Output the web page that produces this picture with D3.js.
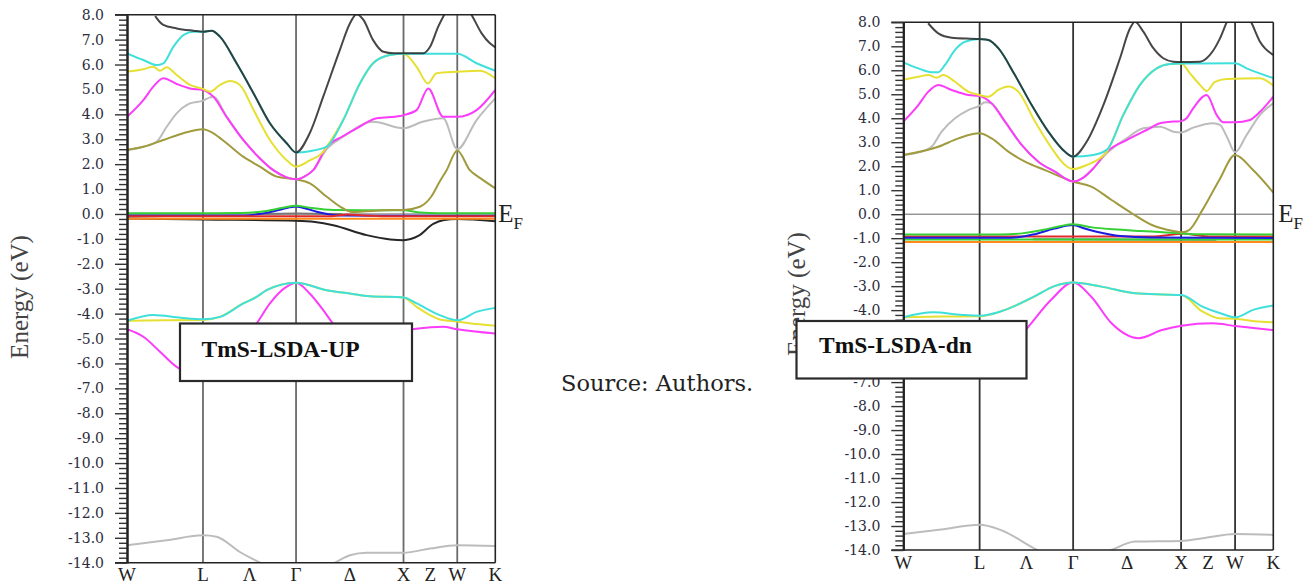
<!DOCTYPE html>
<html><head><meta charset="utf-8">
<script src="https://cdn.jsdelivr.net/npm/d3@7"></script>
<style>body{margin:0;background:#fff}svg{display:block}</style>
</head><body><svg id="c" width="1311" height="584"></svg>
<script>
// ---------- DATA ----------
const kPoints = [0, 0.707, 1.573, 2.573, 3.073, 3.427];          // W L Γ X W K
const kLabels = ["W", "L", "Λ", "Γ", "Δ", "X", "Z", "W", "K"];
const kLabelPos = [0, 0.707, 1.14, 1.573, 2.073, 2.573, 2.823, 3.073, 3.427];
const eMajor = d3.range(0, 23).map(i => -14 + i);
const eMinor = d3.range(0, 111).filter(i => i % 5 !== 0).map(i => -14 + i * 0.2);

// spin-up panel
const upBlack = [[0.262,7.95],[0.276,7.86],[0.338,7.59],[0.462,7.45],[0.617,7.36],[0.707,7.32],[0.788,7.36],[0.865,7.12],[1.02,6.05],[1.178,4.84],[1.33,3.64],[1.486,2.84],[1.573,2.47],[1.70,3.24],[1.826,4.71],[1.98,6.58],[2.074,7.65],[2.137,8.02],[2.2,7.79],[2.29,6.98],[2.386,6.51],[2.48,6.45],[2.573,6.45],[2.756,6.45],[2.82,6.71],[2.896,7.52],[2.958,8.05],[3.073,8.9],[3.206,8.0],[3.3,7.25],[3.377,6.85],[3.427,6.69]];
const upCyan = [[0,6.45],[0.152,6.18],[0.276,5.98],[0.338,6.05],[0.431,6.71],[0.524,7.18],[0.617,7.32],[0.707,7.32],[0.788,7.36],[0.865,7.12],[1.02,6.05],[1.178,4.84],[1.33,3.64],[1.486,2.84],[1.573,2.47],[1.70,2.52],[1.858,2.70],[2.012,3.77],[2.167,5.24],[2.29,6.05],[2.447,6.38],[2.573,6.43],[2.8,6.43],[3.073,6.43],[3.253,6.05],[3.427,5.75]];
const upYellow = [[0,5.71],[0.152,5.81],[0.245,5.91],[0.307,5.75],[0.369,5.89],[0.462,5.58],[0.586,5.18],[0.707,5.02],[0.772,4.91],[0.865,5.18],[0.958,5.34],[1.05,5.18],[1.178,4.17],[1.33,2.97],[1.486,2.16],[1.573,1.9],[1.70,2.15],[1.826,2.5],[1.858,2.70],[2.012,3.77],[2.167,5.24],[2.29,6.05],[2.447,6.38],[2.573,6.43],[2.695,5.91],[2.80,5.24],[2.88,5.65],[3.073,5.71],[3.284,5.75],[3.427,5.45]];
const upMagenta = [[0,3.9],[0.152,4.57],[0.245,5.11],[0.338,5.45],[0.462,5.22],[0.586,5.04],[0.707,4.98],[0.803,4.71],[0.927,3.9],[1.082,2.97],[1.237,2.23],[1.361,1.76],[1.486,1.47],[1.573,1.39],[1.65,1.5],[1.733,1.76],[1.858,2.70],[2.0,3.1],[2.137,3.44],[2.323,3.84],[2.54,3.93],[2.573,3.97],[2.695,4.17],[2.803,5.04],[2.942,3.90],[3.073,3.9],[3.253,4.17],[3.427,4.98]];
const upGray = [[0,2.57],[0.152,2.7],[0.276,2.9],[0.369,3.5],[0.462,4.04],[0.586,4.44],[0.707,4.55],[0.772,4.68],[0.803,4.71],[0.927,3.9],[1.082,2.97],[1.237,2.23],[1.361,1.76],[1.486,1.47],[1.573,1.39],[1.65,1.5],[1.733,1.76],[1.858,2.6],[2.012,3.1],[2.29,3.70],[2.573,3.44],[2.75,3.7],[2.942,3.84],[3.073,2.6],[3.253,3.77],[3.427,4.64]];
const upOlive = [[0,2.57],[0.152,2.7],[0.338,2.97],[0.524,3.24],[0.707,3.4],[0.803,3.24],[0.927,2.84],[1.082,2.3],[1.237,1.9],[1.393,1.5],[1.573,1.39],[1.702,1.23],[1.859,0.69],[2.012,0.22],[2.10,0.08],[2.2,0.1],[2.40,0.15],[2.573,0.16],[2.725,0.29],[2.83,0.69],[2.91,1.3],[2.974,1.76],[3.073,2.55],[3.19,1.76],[3.284,1.45],[3.427,1.03]];
const upGreen = [[0,0.03],[0.707,0.03],[1.05,0.04],[1.3,0.12],[1.45,0.25],[1.573,0.33],[1.70,0.25],[1.92,0.16],[2.2,0.15],[2.573,0.15],[2.73,0.06],[2.9,0.03],[3.427,0.03]];
const upBlue = [[0,-0.06],[1.1,-0.06],[1.3,0.05],[1.45,0.2],[1.573,0.3],[1.68,0.2],[1.765,0.09],[1.98,-0.06],[2.3,-0.07],[3.427,-0.07]];
const upRed = [[0,-0.09],[1.9,-0.09],[2.05,-0.02],[2.2,-0.06],[2.4,-0.09],[3.427,-0.09]];
const upOrange = [[0,-0.19],[1.573,-0.19],[3.427,-0.19]];
const upDark = [[1.2,0.0],[1.573,0.02],[2.0,0.0]];
const upBlackLow = [[0,-0.18],[0.707,-0.22],[1.573,-0.27],[1.75,-0.32],[1.919,-0.45],[2.23,-0.85],[2.45,-1.02],[2.573,-1.05],[2.71,-0.88],[2.85,-0.4],[2.94,-0.25],[3.073,-0.2],[3.427,-0.29]];
const upCyanLow = [[0,-4.29],[0.245,-4.06],[0.5,-4.17],[0.707,-4.23],[0.865,-4.13],[1.082,-3.59],[1.206,-3.33],[1.299,-3.06],[1.573,-2.76],[1.858,-3.06],[2.074,-3.19],[2.26,-3.3],[2.573,-3.35],[2.695,-3.59],[2.91,-4.06],[3.073,-4.27],[3.253,-3.93],[3.427,-3.77]];
const upYellowLow = [[0,-4.29],[0.35,-4.27],[0.707,-4.26],[0.865,-4.13],[1.082,-3.59],[1.206,-3.33],[1.299,-3.06],[1.573,-2.76],[1.858,-3.06],[2.074,-3.19],[2.26,-3.3],[2.573,-3.35],[2.695,-3.73],[2.82,-4.06],[2.91,-4.24],[3.073,-4.32],[3.253,-4.42],[3.427,-4.49]];
const upMagentaLow = [[0,-4.63],[0.152,-4.93],[0.307,-5.53],[0.462,-6.14],[0.707,-6.55],[0.95,-5.7],[1.207,-4.39],[1.33,-3.59],[1.486,-2.92],[1.573,-2.76],[1.70,-3.19],[1.826,-3.86],[1.904,-4.33],[2.18,-5.12],[2.45,-4.75],[2.65,-4.63],[2.94,-4.53],[3.073,-4.63],[3.427,-4.8]];
const upGrayLow = [[0,-13.3],[0.369,-13.1],[0.707,-12.9],[0.834,-12.96],[1.05,-13.57],[1.253,-14.03],[1.573,-14.6],[1.92,-14.03],[2.074,-13.7],[2.23,-13.6],[2.573,-13.6],[2.82,-13.43],[3.073,-13.3],[3.427,-13.33]];

// spin-down panel
const dnBlack = [[0.23,7.96],[0.324,7.54],[0.448,7.36],[0.704,7.3],[0.788,7.26],[0.88,6.92],[1.034,5.8],[1.189,4.55],[1.343,3.44],[1.498,2.6],[1.573,2.4],[1.698,3.02],[1.853,4.55],[2.007,6.5],[2.1,7.75],[2.146,8.02],[2.223,7.61],[2.316,6.92],[2.408,6.5],[2.501,6.36],[2.573,6.34],[2.748,6.36],[2.84,6.64],[2.933,7.33],[2.995,8.0],[3.1,8.9],[3.227,7.96],[3.304,7.19],[3.427,6.64]];
const dnCyan = [[0,6.33],[0.139,6.08],[0.262,5.92],[0.324,5.92],[0.386,6.22],[0.479,6.85],[0.571,7.19],[0.704,7.3],[0.788,7.26],[0.88,6.92],[1.034,5.8],[1.189,4.55],[1.343,3.44],[1.498,2.6],[1.573,2.4],[1.76,2.47],[1.884,2.68],[2.038,4.14],[2.192,5.39],[2.347,6.08],[2.47,6.26],[2.573,6.28],[3.073,6.29],[3.18,6.08],[3.427,5.67]];
const dnYellow = [[0,5.6],[0.139,5.73],[0.232,5.8],[0.309,5.69],[0.371,5.8],[0.479,5.52],[0.602,5.11],[0.704,4.97],[0.788,4.9],[0.88,5.18],[0.973,5.32],[1.065,5.11],[1.22,3.86],[1.374,2.75],[1.498,2.05],[1.573,1.88],[1.698,2.05],[1.822,2.33],[1.884,2.6],[2.038,4.14],[2.192,5.39],[2.347,6.08],[2.47,6.26],[2.573,6.28],[2.655,5.87],[2.748,5.39],[2.81,5.14],[2.887,5.52],[2.995,5.64],[3.304,5.67],[3.427,5.36]];
const dnMagenta = [[0,3.86],[0.139,4.55],[0.232,5.11],[0.324,5.39],[0.448,5.18],[0.602,4.97],[0.704,4.93],[0.818,4.62],[0.942,3.86],[1.096,2.89],[1.251,2.19],[1.405,1.77],[1.573,1.36],[1.66,1.5],[1.76,1.91],[1.884,2.6],[2.069,3.09],[2.254,3.51],[2.378,3.79],[2.501,3.86],[2.573,3.88],[2.624,4.0],[2.686,4.42],[2.81,4.97],[2.902,4.14],[2.964,3.83],[3.073,3.83],[3.211,3.93],[3.304,4.27],[3.427,4.9]];
const dnGray = [[0,2.47],[0.17,2.61],[0.262,2.81],[0.355,3.44],[0.479,4.0],[0.602,4.34],[0.704,4.52],[0.757,4.67],[0.818,4.62],[0.942,3.86],[1.096,2.89],[1.251,2.19],[1.405,1.77],[1.573,1.36],[1.66,1.5],[1.76,1.91],[1.884,2.54],[2.069,3.16],[2.223,3.58],[2.378,3.65],[2.501,3.44],[2.573,3.41],[2.686,3.61],[2.871,3.79],[2.933,3.72],[3.0,3.2],[3.073,2.58],[3.18,3.3],[3.304,4.14],[3.427,4.62]];
const dnOlive = [[0,2.47],[0.324,2.81],[0.51,3.16],[0.704,3.37],[0.818,3.16],[0.973,2.61],[1.127,2.19],[1.313,1.84],[1.573,1.36],[1.741,1.15],[1.929,0.59],[2.116,0.04],[2.303,-0.45],[2.5,-0.7],[2.578,-0.75],[2.647,-0.66],[2.771,0.18],[2.927,1.43],[3.073,2.47],[3.24,1.84],[3.427,0.9]];
const dnGreen = [[0,-0.85],[0.9,-0.85],[1.1,-0.8],[1.3,-0.65],[1.45,-0.5],[1.573,-0.42],[1.75,-0.55],[1.945,-0.63],[2.2,-0.7],[2.408,-0.75],[2.717,-0.84],[3.427,-0.85]];
const dnBlue = [[0,-0.98],[1.0,-0.98],[1.2,-0.85],[1.4,-0.6],[1.573,-0.45],[1.68,-0.6],[1.79,-0.73],[2.01,-0.91],[2.3,-0.97],[3.427,-0.99]];
const dnRed = [[0,-0.93],[2.3,-0.93],[2.5,-0.85],[2.6,-0.8],[2.72,-0.88],[2.85,-0.93],[3.427,-0.93]];
const dnGreen2 = [[0,-1.05],[1.573,-1.05],[3.427,-1.05]];
const dnOrange = [[0,-1.16],[1.573,-1.16],[3.427,-1.16]];
const dnDark = [[1.2,-1.04],[2.0,-1.05],[2.9,-1.07]];
const dnCyanLow = [[0,-4.3],[0.275,-4.09],[0.55,-4.2],[0.712,-4.23],[0.899,-4.06],[1.211,-3.44],[1.40,-3.0],[1.573,-2.85],[1.835,-3.02],[2.147,-3.3],[2.4,-3.35],[2.573,-3.37],[2.771,-3.85],[2.95,-4.15],[3.073,-4.3],[3.24,-3.99],[3.427,-3.81]];
const dnYellowLow = [[0,-4.3],[0.35,-4.27],[0.712,-4.26],[0.899,-4.06],[1.211,-3.44],[1.40,-3.0],[1.573,-2.85],[1.835,-3.02],[2.147,-3.3],[2.4,-3.35],[2.573,-3.37],[2.771,-4.06],[2.927,-4.34],[3.073,-4.36],[3.25,-4.46],[3.427,-4.51]];
const dnMagentaLow = [[0,-4.6],[0.15,-4.93],[0.31,-5.5],[0.46,-6.1],[0.707,-6.5],[0.95,-5.7],[1.133,-4.83],[1.367,-3.58],[1.573,-2.85],[1.741,-3.44],[1.929,-4.55],[2.178,-5.17],[2.397,-4.83],[2.578,-4.65],[2.865,-4.55],[3.074,-4.66],[3.427,-4.83]];
const dnGrayLow = [[0,-13.33],[0.35,-13.15],[0.707,-12.95],[0.899,-13.16],[1.242,-14.0],[1.573,-14.6],[1.929,-14.0],[2.147,-13.65],[2.573,-13.62],[2.771,-13.51],[3.074,-13.33],[3.427,-13.37]];

// tick labels hidden behind the legend box of the spin-down panel
const dnHiddenTicks = [-5, -6];

// ---------- STYLE ----------
const C = {black:"#262626", cyan:"#3fe0dc", yellow:"#e6e032", magenta:"#fb3cfb", gray:"#bcbcbc",
  olive:"#a09b3e", green:"#34d034", blue:"#1c1ce0", red:"#e02a2a", orange:"#ff8a1c", dark:"#777"};

const upBands = [
  [upGrayLow,C.gray],[upMagentaLow,C.magenta],[upYellowLow,C.yellow],[upCyanLow,C.cyan],
  [upDark,C.dark],[upBlackLow,C.black],[upOrange,C.orange],[upBlue,C.blue],[upRed,C.red],[upGreen,C.green],
  [upGray,C.gray],[upOlive,C.olive],[upMagenta,C.magenta],[upYellow,C.yellow],[upCyan,C.cyan],[upBlack,C.black,0.85]
];
const dnBands = [
  [dnGrayLow,C.gray],[dnMagentaLow,C.magenta],[dnYellowLow,C.yellow],[dnCyanLow,C.cyan],
  [dnDark,C.dark],[dnOrange,C.orange],[dnGreen2,C.green],[dnRed,C.red],[dnBlue,C.blue],[dnGreen,C.green],
  [dnGray,C.gray],[dnOlive,C.olive],[dnMagenta,C.magenta],[dnYellow,C.yellow],[dnCyan,C.cyan],[dnBlack,C.black,0.85]
];

const svg = d3.select("#c");
const serif = "'Liberation Serif','Times New Roman',serif";

function drawPanel(p, bands) {
  const x = d3.scaleLinear().domain([kPoints[0], kPoints[kPoints.length-1]]).range([p.x0, p.x1]);
  const y = d3.scaleLinear().domain([-14, 8]).range([p.yB, p.yT]);
  const g = svg.append("g");
  svg.append("clipPath").attr("id", "clip-" + p.id).append("rect")
    .attr("x", p.x0).attr("y", p.yT).attr("width", p.x1 - p.x0).attr("height", p.yB - p.yT);
  const plot = g.append("g").attr("clip-path", `url(#clip-${p.id})`);

  plot.append("line").attr("x1", x(0)).attr("x2", x(3.427)).attr("y1", y(0)).attr("y2", y(0))
    .attr("stroke", "#666").attr("stroke-width", 1);
  kPoints.slice(1, -1).forEach(k => plot.append("line")
    .attr("x1", x(k)).attr("x2", x(k)).attr("y1", p.yT).attr("y2", p.yB)
    .attr("stroke", p.vColor).attr("stroke-width", 1.8));

  const line = d3.line().x(d => x(d[0])).y(d => y(d[1])).curve(d3.curveMonotoneX);
  bands.forEach(b => plot.append("path").attr("d", line(b[0])).attr("fill", "none")
    .attr("stroke", b[1]).attr("stroke-width", 2).attr("stroke-opacity", b[2] || 1)
    .attr("stroke-linejoin", "round"));

  // frame
  g.append("line").attr("x1", p.x0 - 12).attr("x2", p.x1).attr("y1", p.yT).attr("y2", p.yT).attr("stroke", "#222").attr("stroke-width", 1.6);
  g.append("line").attr("x1", p.x0 - 12).attr("x2", p.x1).attr("y1", p.yB).attr("y2", p.yB).attr("stroke", "#222").attr("stroke-width", 1.6);
  g.append("line").attr("x1", p.x1).attr("x2", p.x1).attr("y1", p.yT).attr("y2", p.yB).attr("stroke", "#222").attr("stroke-width", 1.6);

  const minorAx = g.append("g").attr("transform", `translate(${p.x0},0)`)
    .call(d3.axisLeft(y).tickValues(eMinor).tickSize(8).tickSizeOuter(0).tickFormat(""));
  const majorAx = g.append("g").attr("transform", `translate(${p.x0},0)`)
    .call(d3.axisLeft(y).tickValues(eMajor).tickSize(12).tickSizeOuter(0).tickPadding(11).tickFormat(d => d.toFixed(1)));
  [minorAx, majorAx].forEach(a => {
    a.select(".domain").attr("stroke", "#222").attr("stroke-width", 2);
    a.selectAll(".tick line").attr("stroke", "#333").attr("stroke-width", 1.4);
  });
  majorAx.selectAll(".tick text").attr("font-family", "'DejaVu Serif',serif").attr("font-size", 14)
    .attr("fill", "#2c2c3c");
  majorAx.selectAll(".tick text").filter(d => p.hidden.includes(d)).remove();

  kLabels.forEach((t, i) => g.append("text").attr("x", x(kLabelPos[i])).attr("y", p.labelY)
    .attr("text-anchor", "middle").attr("font-family", serif).attr("font-size", 19).attr("fill", "#222").text(t));

  // E_F
  const ef = g.append("text").attr("x", p.x1 + p.efDx).attr("y", y(0) + 8).attr("font-family", serif).attr("fill", "#222");
  ef.append("tspan").attr("font-size", 25).text("E");
  ef.append("tspan").attr("font-size", 17).attr("dy", 7).text("F");

  // y label
  svg.append("text").attr("transform", `translate(${p.ylx},${p.yly}) rotate(-90)`)
    .attr("text-anchor", "middle").attr("font-family", serif).attr("font-size", 25).attr("fill", "#444")
    .text("Energy (eV)");

  // legend box
  svg.append("rect").attr("x", p.bx).attr("y", p.by).attr("width", p.bw).attr("height", p.bh)
    .attr("fill", "#fff").attr("stroke", "#2a2a2a").attr("stroke-width", 2.2);
  svg.append("text").attr("x", p.tx).attr("y", p.ty).attr("font-family", serif).attr("font-weight", "bold")
    .attr("font-size", 23.5).attr("fill", "#111").text(p.title);
}

drawPanel({id:"up", x0:127, x1:495.3, yT:14.7, yB:562.7, vColor:"#6a6a6a", labelY:581, efDx:3, hidden:[],
  ylx:28, yly:297, bx:180, by:323.5, bw:232, bh:57.5, tx:201.5, ty:356.5, title:"TmS-LSDA-UP"}, upBands);
drawPanel({id:"dn", x0:903.3, x1:1273.3, yT:22.3, yB:550, vColor:"#333", labelY:569, efDx:5, hidden:dnHiddenTicks,
  ylx:805, yly:294, bx:796.5, by:321, bw:230, bh:57.5, tx:819, ty:352.5, title:"TmS-LSDA-dn"}, dnBands);

svg.append("text").attr("x", 561).attr("y", 391).attr("font-family", "'DejaVu Serif',serif")
  .attr("font-size", 22.5).attr("fill", "#222").text("Source: Authors.");
</script></body></html>
